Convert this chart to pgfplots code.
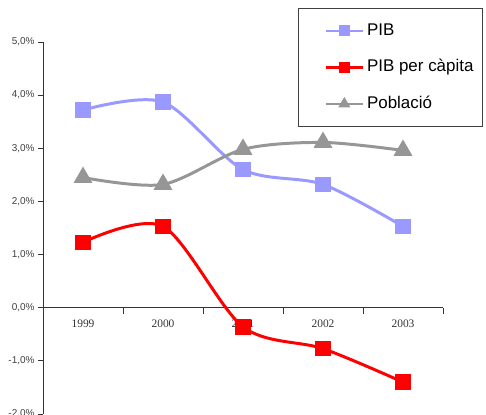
\documentclass[border=0pt]{standalone}
\usepackage{pgfplots}
\pgfplotsset{compat=1.18}
\usepackage{fontspec}
\setmainfont{Liberation Sans}
\newfontfamily\serif{Liberation Serif}

\definecolor{pib}{RGB}{153,153,255}
\definecolor{pibcap}{RGB}{255,0,0}
\definecolor{pobl}{RGB}{150,150,150}

\begin{document}
\begin{tikzpicture}
\begin{axis}[
    at={(0,0)}, anchor=south west,
    scale only axis,
    width=400bp, height=372bp,
    xmin=0.5, xmax=5.5,
    ymin=-2, ymax=5,
    axis y line=left,
    axis x line=middle,
    axis line style={-, black!80, line width=0.8pt},
    xtick={1,2,3,4,5},
    xticklabels={1999,2000,2001,2002,2003},
    minor xtick={1.5,2.5,3.5,4.5,5.5},
    x tick style={draw=none},
    minor x tick style={draw=black!80, line width=0.8pt},
    minor tick length=6bp,
    xtick align=outside,
    ytick={-2,-1,0,1,2,3,4,5},
    yticklabels={{-2,0\%},{-1,0\%},{0,0\%},{1,0\%},{2,0\%},{3,0\%},{4,0\%},{5,0\%}},
    y tick style={black!80, line width=0.8pt},
    major tick length=5bp,
    ytick align=outside,
    /pgf/number format/assume math mode=true,
    x tick label style={font=\serif\fontsize{11.5}{12}\selectfont, text=black!80, yshift=-4bp},
    y tick label style={font=\fontsize{10}{11}\selectfont, text=black!75},
    legend style={at={(axis description cs:0.6375,1.0914)}, anchor=north west,
        draw=black!75, line width=0.7pt, inner xsep=9bp, inner ysep=13bp,
        row sep=17.5bp, column sep=3bp,
        nodes={inner xsep=0bp, inner ysep=2bp, text height=12bp, text depth=3bp,
               font=\fontsize{17}{18}\selectfont}},
    legend cell align=left,
    legend image code/.code={
        \path (-17bp,0);
        \draw[#1, line width=2.5pt] (0bp,0bp) -- (37bp,0bp);
        \draw[#1, mark size=4pt] plot coordinates {(18.5bp,0bp)};
    },
    clip=false,
]
\addplot[color=pib, line width=3pt, smooth, mark=square*, mark size=6.3pt] coordinates {
    (1,3.72) (2,3.87) (3,2.60) (4,2.32) (5,1.53)
};
\addlegendentry{PIB}
\addplot[color=pibcap, line width=3pt, smooth, mark=square*, mark size=6.3pt] coordinates {
    (1,1.23) (2,1.53) (3,-0.36) (4,-0.77) (5,-1.40)
};
\addlegendentry{PIB per càpita}
\addplot[color=pobl, line width=3pt, smooth, mark=triangle*, mark size=8pt] coordinates {
    (1,2.45) (2,2.32) (3,2.98) (4,3.11) (5,2.96)
};
\addlegendentry{Població}
\end{axis}
\pgfresetboundingbox
\path[use as bounding box] (-43bp,-1bp) rectangle (443bp,414bp);
\end{tikzpicture}
\end{document}
